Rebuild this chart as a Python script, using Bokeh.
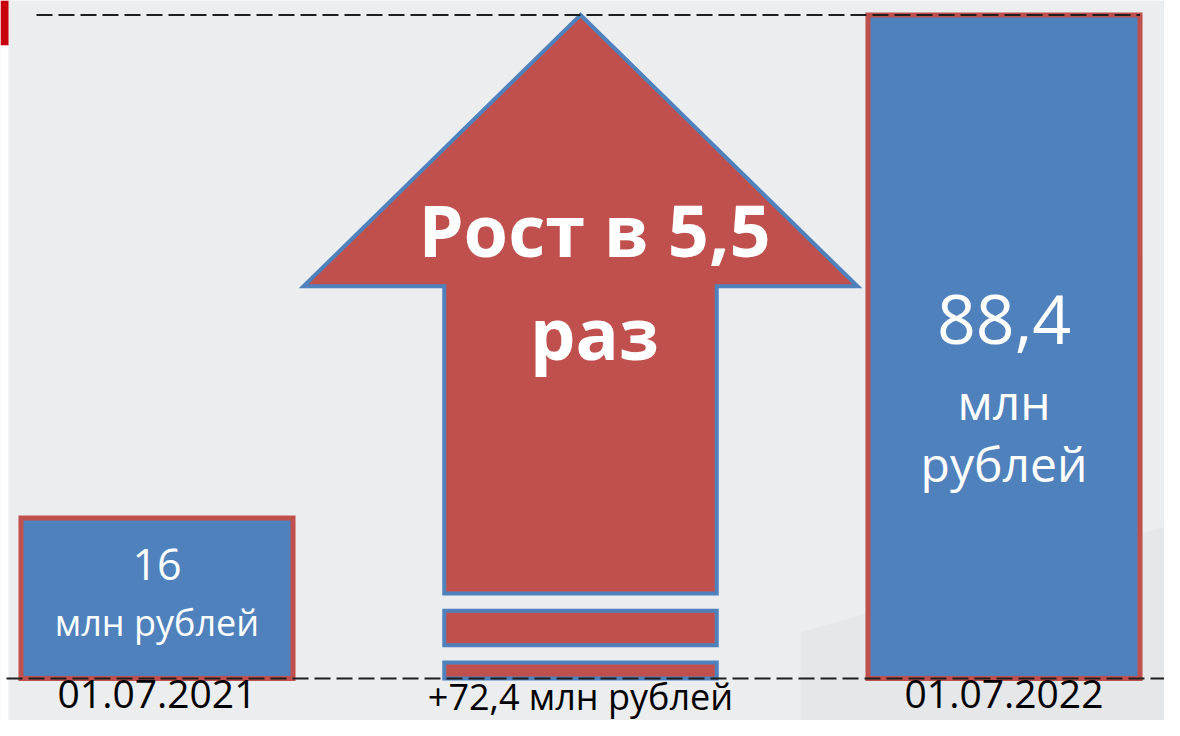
from bokeh.plotting import figure
from bokeh.models import Range1d
from bokeh.core.properties import value
from bokeh.embed import file_html
from bokeh.resources import INLINE

# ---- data ----
categories = ["01.07.2021", "+72,4 млн рублей", "01.07.2022"]
amounts = [16, 88.4]                 # млн рублей
amount_labels = ["16", "88,4"]
box_tops = [21.4, 88.4]              # drawn box heights (left box is a label box, not to scale)
growth_lines = ["Рост в 5,5", "раз"]
unit_text = "млн рублей"

# ---- geometry helpers ----
PX_X = 423.5      # pixels per category step
PX_Y = 7.5057     # pixels per million roubles
X0, Y0 = 156.5, 678.0   # screen position of (0, 0)


def sx(px):
    return (px - X0) / PX_X


def sy(py):
    return (Y0 - py) / PX_Y


def ty(baseline_px, fs):
    # compensate the renderer's baseline shift for text
    return sy(baseline_px - 0.37 * fs)


FONT = value("Open Sans")
BLUE = "#4F81BD"
RED = "#C0504D"
BG = "#ECEDEF"

W, H = 1164, 720
p = figure(width=W, height=H,
           x_range=Range1d(sx(0), sx(W)), y_range=Range1d(sy(H), sy(0)),
           output_backend="svg", toolbar_location=None,
           x_axis_type=None, y_axis_type=None, min_border=0)
p.background_fill_color = BG
p.border_fill_color = BG
p.outline_line_color = None
p.grid.visible = False

# slide decorations: left edge strip and subtle shading bottom-right
p.quad(left=[sx(0), sx(0)], right=[sx(8), sx(8)], bottom=[sy(45), sy(720)], top=[sy(0), sy(45)],
       fill_color=["#C8000E", "white"], line_color=None)
p.patch([sx(800), sx(1164), sx(1164), sx(800)],
        [sy(632), sy(526), sy(720), sy(720)],
        fill_color="#E6E7E9", line_color=None)

bar_x = [0, 2]
half = 0.3212
p.quad(left=[x - half for x in bar_x], right=[x + half for x in bar_x],
       bottom=[0, 0], top=box_tops,
       fill_color=BLUE, line_color=RED, line_width=5, line_join="miter")

# growth arrow in the middle
top = amounts[1]
hb = top * 0.591
sb = top * 0.128
hw, sw = 0.654, 0.3217
p.patch([1, 1 + hw, 1 + sw, 1 + sw, 1 - sw, 1 - sw, 1 - hw],
        [top, hb, hb, sb, sb, hb, hb],
        fill_color=RED, line_color=BLUE, line_width=4, line_join="miter")
p.quad(left=[1 - sw, 1 - sw], right=[1 + sw, 1 + sw],
       bottom=[top * 0.050, 0.0], top=[top * 0.102, top * 0.024],
       fill_color=RED, line_color=BLUE, line_width=4, line_join="miter")

# dashed reference lines
p.line([sx(36), 2 + half], [top, top], line_color="#1E1E1E", line_width=2, line_dash="16 6")
p.line([sx(6), sx(W)], [0, 0], line_color="#1E1E1E", line_width=2, line_dash="16 6")

# arrow text
p.text(x=[1, 1], y=[ty(255, 72), ty(358, 72)], text=growth_lines, text_font=FONT,
       text_font_style="bold", text_font_size="72px", text_color="white",
       text_align="center", text_baseline="alphabetic", x_offset=14)

# right bar text
p.text(x=[2], y=[ty(344, 68)], text=[amount_labels[1]], text_font=FONT,
       text_font_size="68px", text_color="white", text_align="center",
       text_baseline="alphabetic")
p.text(x=[2, 2], y=[ty(419, 48), ty(481, 48)], text=unit_text.split(" "), text_font=FONT,
       text_font_size="48px", text_color="white", text_align="center",
       text_baseline="alphabetic")

# left bar text
p.text(x=[0], y=[ty(580, 43)], text=[amount_labels[0]], text_font=FONT,
       text_font_size="43px", text_color="white", text_align="center",
       text_baseline="alphabetic")
p.text(x=[0], y=[ty(635, 36)], text=[unit_text], text_font=FONT,
       text_font_size="36px", text_color="white", text_align="center",
       text_baseline="alphabetic")

# category labels
p.text(x=[0, 2], y=[ty(708, 39), ty(708, 39)], text=[categories[0], categories[2]],
       text_font=FONT, text_font_size="39px", text_color="black", text_align="center",
       text_baseline="alphabetic")
p.text(x=[1], y=[ty(709, 36)], text=[categories[1]], text_font=FONT,
       text_font_size="36px", text_color="black", text_align="center",
       text_baseline="alphabetic")

open("out.html", "w").write(file_html(p, INLINE))
